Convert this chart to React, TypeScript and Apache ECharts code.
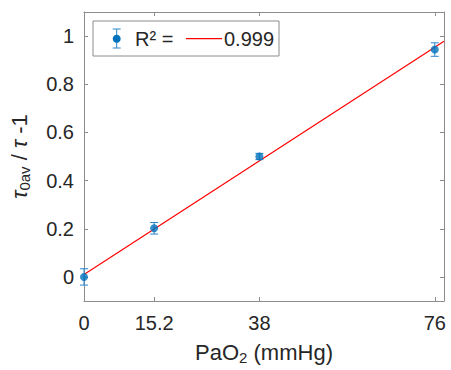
import React, { useEffect, useRef } from "react";
import * as echarts from "echarts";

// Measured quenching ratio against arterial oxygen pressure
const pressures = [0, 15.2, 38, 76];
const ratios = [0, 0.202, 0.5, 0.944];
const errors = [0.034, 0.024, 0.013, 0.028];

// Linear fit, drawn across the full x range
const fitX = [0, 78];
const fitY = [0.01, 0.979];
const rSquared = "0.999";

const xTicks = [0, 15.2, 38, 76];
const yTicks = [0, 0.2, 0.4, 0.6, 0.8, 1];

const FONT = "Liberation Sans, Arial, Helvetica, sans-serif";
const INK = "#262626";
const AXIS = "#8c8c8c";
const BLUE = "#0072BD";
const BAR = "#2a86cc";
const RED = "#ff0000";

export default function App() {
  const ref = useRef<HTMLDivElement>(null);

  useEffect(() => {
    if (!ref.current) return;
    const chart = echarts.init(ref.current, null, { renderer: "svg" });

    const tickCommon = {
      show: true,
      inside: true,
      length: 4,
      lineStyle: { color: AXIS, width: 1 },
    };
    const lineCommon = {
      show: true,
      onZero: false,
      lineStyle: { color: AXIS, width: 1 },
    };
    const nameRich = {
      m: { fontSize: 22, fontFamily: FONT, color: INK, lineHeight: 26 },
      t: { fontSize: 22, fontFamily: FONT, color: INK, fontStyle: "italic", lineHeight: 26 },
      s: { fontSize: 15, fontFamily: FONT, color: INK, lineHeight: 15, verticalAlign: "bottom" },
    };

    const legendY = 38.7;
    const iconX = 116.7;

    chart.setOption({
      animation: false,
      backgroundColor: "#ffffff",
      grid: { left: 84, right: 7, top: 12, bottom: 67, containLabel: false },
      xAxis: [
        {
          type: "value",
          min: 0,
          max: 78,
          position: "bottom",
          axisLine: lineCommon,
          axisTick: { ...tickCommon, customValues: xTicks },
          axisLabel: {
            customValues: xTicks,
            formatter: (v: number) => String(v),
            fontSize: 20,
            fontFamily: FONT,
            color: INK,
            margin: 12,
          },
          splitLine: { show: false },
          name: "{m|PaO}{s|2}{m| (mmHg)}",
          nameLocation: "middle",
          nameGap: 38,
          nameTextStyle: { rich: nameRich },
        },
        {
          type: "value",
          min: 0,
          max: 78,
          position: "top",
          axisLine: lineCommon,
          axisTick: { ...tickCommon, customValues: xTicks },
          axisLabel: { show: false },
          splitLine: { show: false },
        },
      ],
      yAxis: [
        {
          type: "value",
          min: -0.1,
          max: 1.1,
          position: "left",
          axisLine: lineCommon,
          axisTick: { ...tickCommon, customValues: yTicks },
          axisLabel: {
            customValues: yTicks,
            formatter: (v: number) => String(Math.round(v * 10) / 10),
            fontSize: 20,
            fontFamily: FONT,
            color: INK,
            margin: 10,
          },
          splitLine: { show: false },
          name: "{t|τ}{s|0av}{m| / }{t|τ}{m| -1}",
          nameLocation: "middle",
          nameRotate: 90,
          nameGap: 52,
          nameTextStyle: { rich: nameRich },
        },
        {
          type: "value",
          min: -0.1,
          max: 1.1,
          position: "right",
          axisLine: lineCommon,
          axisTick: { ...tickCommon, customValues: yTicks },
          axisLabel: { show: false },
          splitLine: { show: false },
        },
      ],
      series: [
        {
          name: "fit",
          type: "line",
          data: fitX.map((x, i) => [x, fitY[i]]),
          showSymbol: false,
          lineStyle: { color: RED, width: 1.2 },
          z: 3,
        },
        {
          name: "error",
          type: "custom",
          data: pressures.map((x, i) => [x, ratios[i] - errors[i], ratios[i] + errors[i]]),
          encode: { x: 0, y: [1, 2] },
          clip: false,
          z: 4,
          renderItem: (_params: any, api: any) => {
            const lo = api.coord([api.value(0), api.value(1)]);
            const hi = api.coord([api.value(0), api.value(2)]);
            const cap = 4;
            const style = { stroke: BAR, lineWidth: 1 };
            return {
              type: "group",
              children: [
                { type: "line", shape: { x1: lo[0], y1: lo[1], x2: hi[0], y2: hi[1] }, style },
                { type: "line", shape: { x1: lo[0] - cap, y1: lo[1], x2: lo[0] + cap, y2: lo[1] }, style },
                { type: "line", shape: { x1: hi[0] - cap, y1: hi[1], x2: hi[0] + cap, y2: hi[1] }, style },
              ],
            };
          },
        },
        {
          name: "data",
          type: "scatter",
          data: pressures.map((x, i) => [x, ratios[i]]),
          symbol: "circle",
          symbolSize: 8,
          itemStyle: { color: BLUE },
          clip: false,
          z: 5,
        },
      ],
      graphic: [
        {
          type: "group",
          z: 100,
          children: [
            {
              type: "rect",
              shape: { x: 93, y: 21, width: 186, height: 35 },
              style: { fill: "#ffffff", stroke: AXIS, lineWidth: 1 },
            },
            { type: "line", shape: { x1: iconX, y1: 29, x2: iconX, y2: 48 }, style: { stroke: BAR, lineWidth: 1 } },
            { type: "line", shape: { x1: iconX - 4, y1: 29, x2: iconX + 4, y2: 29 }, style: { stroke: BAR, lineWidth: 1 } },
            { type: "line", shape: { x1: iconX - 4, y1: 48, x2: iconX + 4, y2: 48 }, style: { stroke: BAR, lineWidth: 1 } },
            { type: "circle", shape: { cx: iconX, cy: legendY, r: 4 }, style: { fill: BLUE } },
            {
              type: "text",
              x: 135,
              y: legendY,
              style: {
                text: "R² =",
                fontSize: 20,
                fontFamily: FONT,
                fill: INK,
                verticalAlign: "middle",
                align: "left",
              },
            },
            { type: "line", shape: { x1: 186, y1: legendY, x2: 222, y2: legendY }, style: { stroke: RED, lineWidth: 1.2 } },
            {
              type: "text",
              x: 224,
              y: legendY,
              style: {
                text: rSquared,
                fontSize: 20,
                fontFamily: FONT,
                fill: INK,
                verticalAlign: "middle",
                align: "left",
              },
            },
          ],
        },
      ],
    });

    return () => chart.dispose();
  }, []);

  return (
    <div
      ref={ref}
      style={{ position: "absolute", left: 0, top: 0, width: 451, height: 370, background: "#fff" }}
    />
  );
}
